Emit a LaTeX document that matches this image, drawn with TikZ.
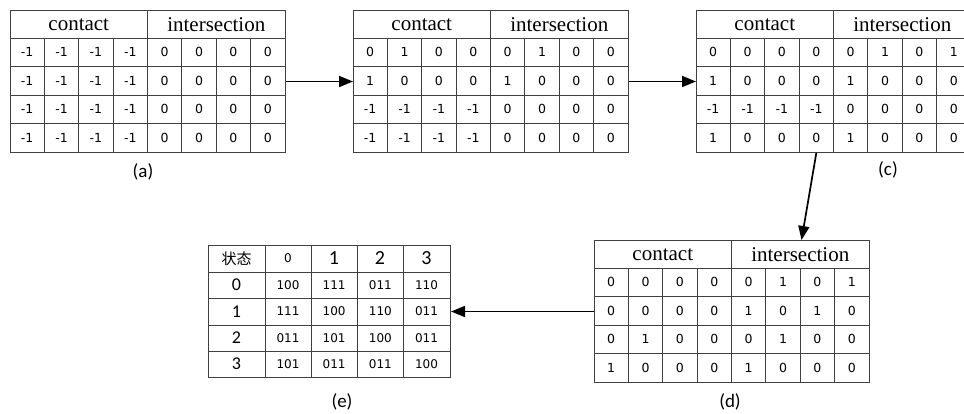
\documentclass[tikz,border=0pt]{standalone}
\usepackage{fontspec}
\setmainfont{Liberation Serif}
\newfontfamily\hdrfont{Liberation Serif}
\newfontfamily\cellfont{DejaVu Sans}
\newfontfamily\labfont{Carlito}
\newfontfamily\cjkfont{Noto Sans CJK SC}
\usetikzlibrary{arrows.meta,calc}

\tikzset{
 gridline/.style={draw=black!75, line width=1pt},
 frame/.style={gridline, anchor=north west, inner sep=0pt},
 hdr/.style={font=\hdrfont\fontsize{21}{21}\selectfont, inner sep=0pt},
 cell/.style={font=\cellfont\fontsize{12.5}{13}\selectfont, inner sep=0pt},
 ecell/.style={font=\cellfont\fontsize{12}{13}\selectfont, inner sep=0pt},
 bigdig/.style={font=\labfont\fontsize{20}{20}\selectfont, inner sep=0pt},
 rowdig/.style={font=\labfont\fontsize{18}{18}\selectfont, inner sep=0pt},
 cjk/.style={font=\cjkfont\fontsize{15}{15}\selectfont, inner sep=0pt},
 lab/.style={font=\labfont\fontsize{19}{19}\selectfont, inner sep=0pt},
 conn/.style={-{Triangle[length=14pt,width=11pt]}, line width=1.7pt},
}

\newcommand\ctab[4]{%
 \node[frame, minimum width=275pt, minimum height=142pt] (#1) at (#2,#3) {};
 \begin{scope}[shift={(#2,#3)}]
  \draw[gridline] (0,28) -- (275,28);
  \foreach \r in {1,2,3} \draw[gridline] (0,28+28.5*\r) -- (275,28+28.5*\r);
  \draw[gridline] (137.5,0) -- (137.5,142);
  \foreach \c in {1,2,3,5,6,7} \draw[gridline] (34.375*\c,28) -- (34.375*\c,142);
  \node[hdr] (#1-h1) at (68.75,14.5) {contact};
  \node[hdr] (#1-h2) at (206.25,14.5) {intersection};
  \foreach[count=\r] \row in {#4} {
   \foreach[count=\c] \v in \row {
    \node[cell] (#1-\r-\c) at (34.375*\c-17.19, 28+28.5*\r-14.25) {\v};
   }
  }
 \end{scope}
}

\begin{document}
\begin{tikzpicture}[x=1pt,y=-1pt]
\path[use as bounding box, clip] (0,0) rectangle (964,413);

\ctab{ta}{10}{10}{{-1,-1,-1,-1,0,0,0,0},{-1,-1,-1,-1,0,0,0,0},{-1,-1,-1,-1,0,0,0,0},{-1,-1,-1,-1,0,0,0,0}}
\ctab{tb}{353}{10}{{0,1,0,0,0,1,0,0},{1,0,0,0,1,0,0,0},{-1,-1,-1,-1,0,0,0,0},{-1,-1,-1,-1,0,0,0,0}}
\ctab{tc}{696}{10}{{0,0,0,0,0,1,0,1},{1,0,0,0,1,0,0,0},{-1,-1,-1,-1,0,0,0,0},{1,0,0,0,1,0,0,0}}
\ctab{td}{594}{240}{{0,0,0,0,0,1,0,1},{0,0,0,0,1,0,1,0},{0,1,0,0,0,1,0,0},{1,0,0,0,1,0,0,0}}

% table (e)
\node[frame, minimum width=242pt, minimum height=132pt] (te) at (208,245) {};
\foreach \x in {265,311,357,403} \draw[gridline] (\x,245) -- (\x,377);
\foreach \y in {272,298,325,351} \draw[gridline] (208,\y) -- (450,\y);
\node[cjk] (te-h0) at (236.5,258.5) {状态};
\node[ecell] (te-h1) at (288,258.5) {0};
\node[bigdig] (te-h2) at (334,258.5) {1};
\node[bigdig] (te-h3) at (380,258.5) {2};
\node[bigdig] (te-h4) at (426.5,258.5) {3};
\foreach[count=\r] \row/\yy in {{100,111,011,110}/285,{111,100,110,011}/311.5,{011,101,100,011}/338,{101,011,011,100}/364} {
 \pgfmathtruncatemacro\lbl{\r-1}
 \node[rowdig] (te-\r-0) at (236.5,\yy) {\lbl};
 \foreach[count=\c] \v in \row {
  \pgfmathsetmacro\cx{288+46.17*(\c-1)}
  \node[ecell] (te-\r-\c) at (\cx,\yy) {\v};
 }
}

% labels
\node[lab] (la) at (143,172) {(a)};
\node[lab] (lc) at (888,170) {(c)};
\node[lab] (ld) at (730,402) {(d)};
\node[lab] (le) at (342,402) {(e)};

% connectors
\draw[conn] (ta.east) -- (tb.west);
\draw[conn] (tb.east) -- (tc.west);
\draw[conn] (tc-4-4 |- tc.south) -- ($(td.north west)+(207.5,0)$);
\draw[conn] (td.west) -- (te.east);
\end{tikzpicture}
\end{document}
